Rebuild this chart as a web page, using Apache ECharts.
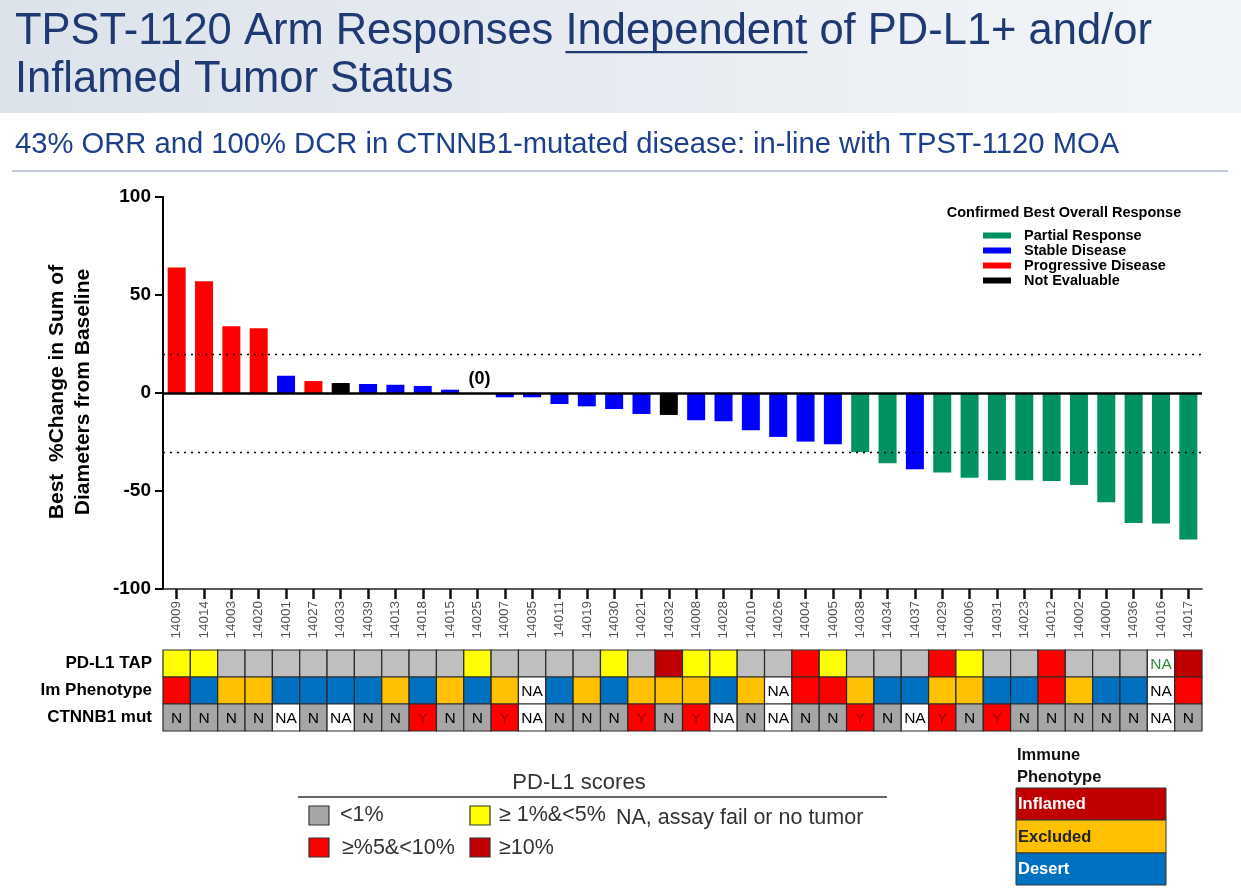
<!DOCTYPE html>
<html><head><meta charset="utf-8">
<script src="https://cdn.jsdelivr.net/npm/echarts@6/dist/echarts.min.js"></script>
<style>html,body{margin:0;padding:0;background:#fff}#c{width:1241px;height:894px}</style>
</head><body><div id="c"></div>
<script>
const patients = ['14009','14014','14003','14020','14001','14027','14033','14039','14013','14018','14015','14025','14007','14035','14011','14019','14030','14021','14032','14008','14028','14010','14026','14004','14005','14038','14034','14037','14029','14006','14031','14023','14012','14002','14000','14036','14016','14017'];
const changes = [64, 57, 34, 33, 8.8, 6.1, 5.1, 4.6, 4.2, 3.6, 1.7, 0, -2.2, -2.2, -5.6, -6.8, -8.2, -10.7, -11.2, -13.9, -14.4, -19, -22.4, -24.8, -26.2, -30.1, -35.9, -38.9, -40.5, -43.2, -44.5, -44.5, -44.9, -46.9, -55.8, -66.3, -66.6, -74.8];
const responses = ['PD','PD','PD','PD','SD','PD','NE','SD','SD','SD','SD','SD','SD','SD','SD','SD','SD','SD','NE','SD','SD','SD','SD','SD','SD','PR','PR','SD','PR','PR','PR','PR','PR','PR','PR','PR','PR','PR'];
const pdl1 = ['1-5','1-5','<1','<1','<1','<1','<1','<1','<1','<1','<1','1-5','<1','<1','<1','<1','1-5','<1','>=10','1-5','1-5','<1','<1','5-10','1-5','<1','<1','<1','5-10','1-5','<1','<1','5-10','<1','<1','<1','NA','>=10'];
const phenotype = ['Inflamed','Desert','Excluded','Excluded','Desert','Desert','Desert','Desert','Excluded','Desert','Excluded','Desert','Excluded','NA','Desert','Excluded','Desert','Excluded','Excluded','Excluded','Desert','Excluded','NA','Inflamed','Inflamed','Excluded','Desert','Desert','Excluded','Excluded','Desert','Desert','Inflamed','Excluded','Desert','Desert','NA','Inflamed'];
const ctnnb1 = ['N','N','N','N','NA','N','NA','N','N','Y','N','N','Y','NA','N','N','N','Y','N','Y','NA','N','NA','N','N','Y','N','NA','Y','N','Y','N','N','N','N','N','NA','N'];
const responseNames = {PR:'Partial Response', SD:'Stable Disease', PD:'Progressive Disease', NE:'Not Evaluable'};
const responseOrder = ['PR','SD','PD','NE'];
const rowNames = ['PD-L1 TAP','Im Phenotype','CTNNB1 mut'];
const pdl1Legend = ['<1%','≥ 1%&<5%','≥%5&<10%','≥10%'];
const phenoLegend = ['Inflamed','Excluded','Desert'];

const FONT = '"Liberation Sans", Arial, sans-serif';
const respColor = {PR:'#00935F', SD:'#0000FF', PD:'#FF0000', NE:'#000000'};
const pdl1Color = {'<1':'#BFBFBF','1-5':'#FFFF00','5-10':'#FF0000','>=10':'#C00000','NA':'#FFFFFF'};
const phenoColor = {Inflamed:'#FF0000', Excluded:'#FFC000', Desert:'#0070C0', NA:'#FFFFFF'};
const ctColor = {N:'#A6A6A6', Y:'#FF0000', NA:'#FFFFFF'};

const chart = echarts.init(document.getElementById('c'), null, {renderer:'canvas'});

const barSeries = responseOrder.map(r => ({
  name: responseNames[r], type:'bar', xAxisIndex:0, yAxisIndex:0,
  barWidth: 18, barGap:'-100%',
  itemStyle:{color:respColor[r]},
  data: changes.map((v,i) => {
    if (responses[i] !== r) return '-';
    if (patients[i] === '14025') return {value:v, label:{show:true, position:'top', formatter:'(0)', fontWeight:'bold', fontSize:18, color:'#000', fontFamily:FONT, offset:[2,0]}};
    return v;
  }),
  z: 3
}));
barSeries[1].markLine = {
  silent:true, symbol:'none', label:{show:false},
  data:[
    {yAxis:20, lineStyle:{type:[2,5], color:'#000', width:1.3}},
    {yAxis:-30, lineStyle:{type:[2,5], color:'#000', width:1.3}},
    {yAxis:0, lineStyle:{type:'solid', color:'#000', width:2.5}}
  ]
};

const cells = [];
patients.forEach((p,i) => {
  cells.push({value:[i, rowNames[0]], fill:pdl1Color[pdl1[i]], text: pdl1[i]==='NA'?'NA':'', tc:'#2E8B3E'});
  cells.push({value:[i, rowNames[1]], fill:phenoColor[phenotype[i]], text: phenotype[i]==='NA'?'NA':'', tc:'#000'});
  cells.push({value:[i, rowNames[2]], fill:ctColor[ctnnb1[i]], text: ctnnb1[i], tc: ctnnb1[i]==='Y'?'#A00000':'#000'});
});

const TF = '43.5px ' + FONT;
const mc = document.createElement('canvas').getContext('2d');
mc.font = TF;
const ulStart = 15 + mc.measureText('TPST-1120 Arm Responses ').width;
const ulW = mc.measureText('Independent').width;

const LF = '21.5px ' + FONT;
const graphics = [
  {type:'rect', shape:{x:0,y:0,width:1241,height:113}, style:{fill:new echarts.graphic.LinearGradient(0,0,1,0,[{offset:0,color:'#DDE3EB'},{offset:1,color:'#F3F5F8'}])}, z:-1},
  {type:'text', x:15, y:32, style:{text:'TPST-1120 Arm Responses Independent of PD-L1+ and/or', font:TF, fill:'#1F3A72', verticalAlign:'middle'}},
  {type:'rect', shape:{x:ulStart, y:51, width:ulW, height:2.2}, style:{fill:'#1F3A72'}},
  {type:'text', x:15, y:80, style:{text:'Inflamed Tumor Status', font:TF, fill:'#1F3A72', verticalAlign:'middle'}},
  {type:'text', x:15, y:145, style:{text:'43% ORR and 100% DCR in CTNNB1-mutated disease: in-line with TPST-1120 MOA', font:'29.2px '+FONT, fill:'#1E3F8C', verticalAlign:'middle'}},
  {type:'line', shape:{x1:12,y1:171,x2:1228,y2:171}, style:{stroke:'#8597B8', lineWidth:1.2}},
  {type:'text', x:70, y:392, rotation:Math.PI/2, style:{text:'Best  %Change in Sum of\nDiameters from Baseline', font:'bold 21px '+FONT, fill:'#000', align:'center', verticalAlign:'middle', lineHeight:26}},
  {type:'text', x:1064, y:213, style:{text:'Confirmed Best Overall Response', font:'bold 14.5px '+FONT, fill:'#000', align:'center', verticalAlign:'middle'}},
  // PD-L1 scores legend
  {type:'text', x:579, y:783, style:{text:'PD-L1 scores', font:'22px '+FONT, fill:'#333', align:'center', verticalAlign:'middle'}},
  {type:'line', shape:{x1:298,y1:797,x2:887,y2:797}, style:{stroke:'#333', lineWidth:1.5}},
  {type:'rect', shape:{x:309,y:806,width:20,height:19}, style:{fill:'#A6A6A6', stroke:'#333', lineWidth:1.2}},
  {type:'text', x:340, y:815, style:{text:pdl1Legend[0], font:LF, fill:'#333', verticalAlign:'middle'}},
  {type:'rect', shape:{x:470,y:806,width:20,height:19}, style:{fill:'#FFFF00', stroke:'#333', lineWidth:1.2}},
  {type:'text', x:499, y:815, style:{text:pdl1Legend[1], font:LF, fill:'#333', verticalAlign:'middle'}},
  {type:'text', x:616, y:818, style:{text:'NA, assay fail or no tumor', font:LF, fill:'#333', verticalAlign:'middle'}},
  {type:'rect', shape:{x:309,y:838,width:20,height:19}, style:{fill:'#FF0000', stroke:'#333', lineWidth:1.2}},
  {type:'text', x:342, y:848, style:{text:pdl1Legend[2], font:LF, fill:'#333', verticalAlign:'middle'}},
  {type:'rect', shape:{x:470,y:838,width:20,height:19}, style:{fill:'#C00000', stroke:'#333', lineWidth:1.2}},
  {type:'text', x:499, y:848, style:{text:pdl1Legend[3], font:LF, fill:'#333', verticalAlign:'middle'}},
  // Immune phenotype legend
  {type:'text', x:1017, y:755, style:{text:'Immune', font:'bold 16.5px '+FONT, fill:'#111', verticalAlign:'middle'}},
  {type:'text', x:1017, y:777, style:{text:'Phenotype', font:'bold 16.5px '+FONT, fill:'#111', verticalAlign:'middle'}},
  {type:'rect', shape:{x:1016,y:788,width:150,height:32}, style:{fill:'#C00000', stroke:'#333', lineWidth:1}},
  {type:'text', x:1018, y:804, style:{text:phenoLegend[0], font:'bold 16.5px '+FONT, fill:'#fff', verticalAlign:'middle'}},
  {type:'rect', shape:{x:1016,y:820,width:150,height:33}, style:{fill:'#FFC000', stroke:'#333', lineWidth:1}},
  {type:'text', x:1018, y:837, style:{text:phenoLegend[1], font:'bold 16.5px '+FONT, fill:'#222', verticalAlign:'middle'}},
  {type:'rect', shape:{x:1016,y:853,width:150,height:32}, style:{fill:'#0070C0', stroke:'#333', lineWidth:1}},
  {type:'text', x:1018, y:869, style:{text:phenoLegend[2], font:'bold 16.5px '+FONT, fill:'#fff', verticalAlign:'middle'}}
];

chart.setOption({
  animation:false,
  backgroundColor:'#fff',
  textStyle:{fontFamily:FONT},
  graphic: graphics,
  legend:{
    orient:'vertical', left:978, top:223, itemWidth:28, itemHeight:6, itemGap:0,
    icon:'rect', data: responseOrder.map(r=>responseNames[r]),
    textStyle:{fontWeight:'bold', fontSize:14.5, color:'#000', padding:[0,0,0,8], lineHeight:15, fontFamily:FONT},
    selectedMode:false
  },
  grid:[
    {left:163, top:197, width:1039, height:392, containLabel:false},
    {left:163, top:650, width:1039, height:81, containLabel:false}
  ],
  xAxis:[
    {type:'category', gridIndex:0, data:patients, boundaryGap:true,
     axisLine:{show:true, onZero:false, lineStyle:{color:'#222', width:1.5}},
     axisTick:{show:true, alignWithLabel:true, length:10, lineStyle:{color:'#111', width:2.5}},
     axisLabel:{rotate:90, color:'#555', fontSize:13.5, margin:12, interval:0, fontFamily:FONT}},
    {type:'category', gridIndex:1, data:patients, show:false}
  ],
  yAxis:[
    {type:'value', gridIndex:0, min:-100, max:100, interval:50,
     axisLine:{show:true, lineStyle:{color:'#000', width:2}},
     axisTick:{show:true, length:8, lineStyle:{color:'#000', width:2}},
     splitLine:{show:false},
     axisLabel:{fontWeight:'bold', fontSize:19, color:'#000', margin:12, fontFamily:FONT}},
    {type:'category', gridIndex:1, data:rowNames, inverse:true,
     axisLine:{show:false}, axisTick:{show:false}, splitLine:{show:false},
     axisLabel:{fontWeight:'bold', fontSize:17, color:'#000', margin:11, fontFamily:FONT}}
  ],
  series: barSeries.concat([{
    type:'custom', xAxisIndex:1, yAxisIndex:1, data:cells,
    renderItem:function(params, api){
      const c = api.coord([api.value(0), api.value(1)]);
      const s = api.size([1,1]);
      const d = cells[params.dataIndex];
      return {type:'group', children:[
        {type:'rect', shape:{x:c[0]-s[0]/2, y:c[1]-s[1]/2, width:s[0], height:s[1]}, style:{fill:d.fill, stroke:'#2a2a2a', lineWidth:1.2}},
        {type:'text', style:{text:d.text, x:c[0], y:c[1]+1, align:'center', verticalAlign:'middle', font:'15.5px '+FONT, fill:d.tc}}
      ]};
    }
  }])
});
</script></body></html>
